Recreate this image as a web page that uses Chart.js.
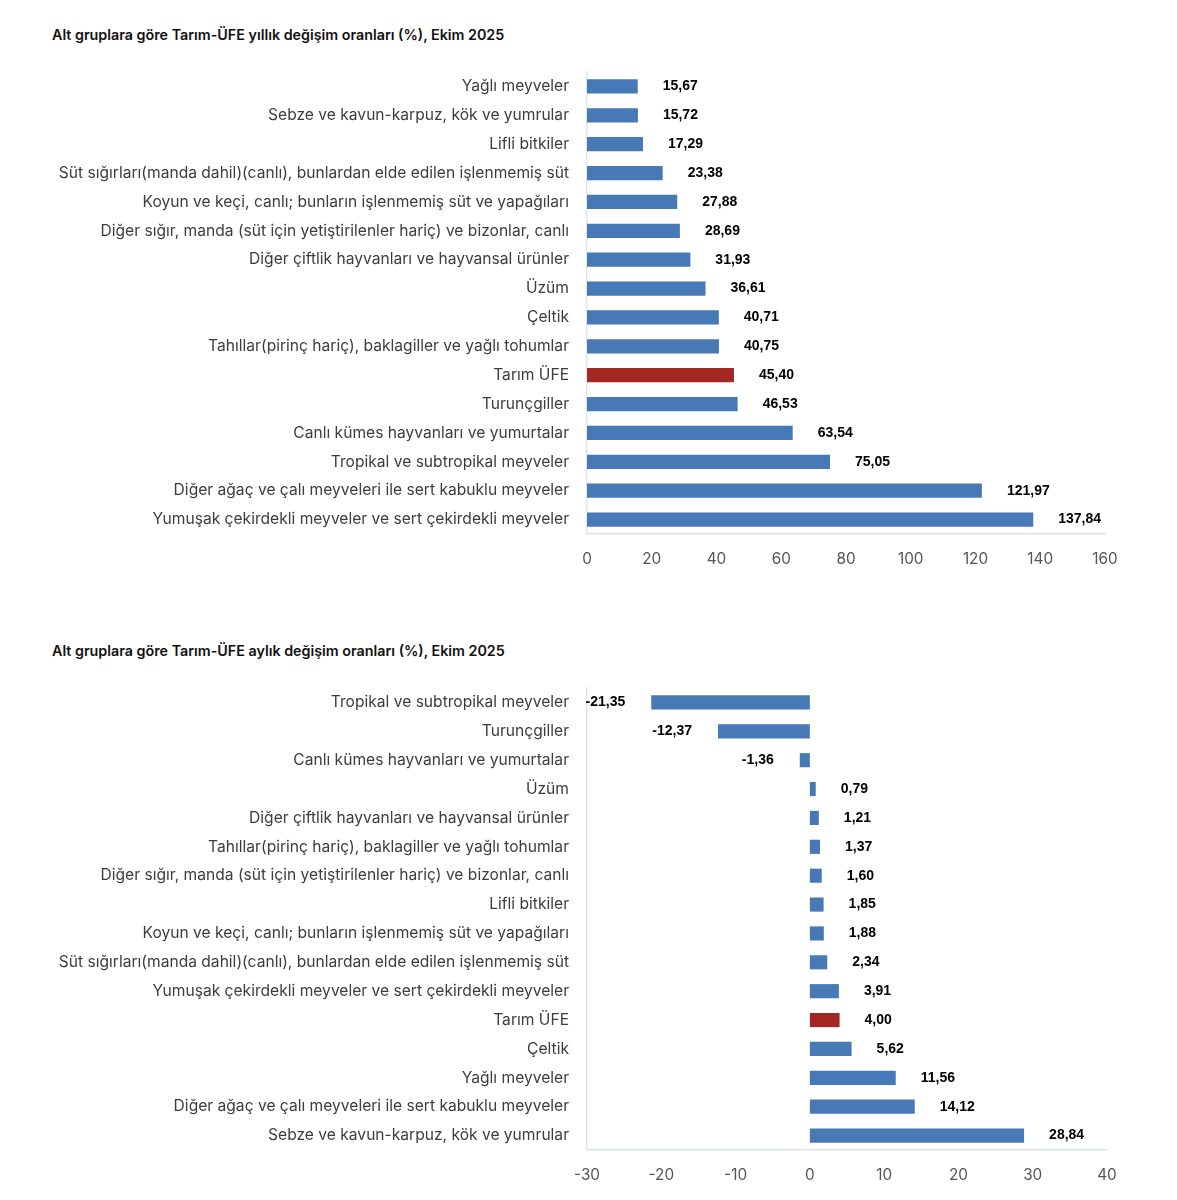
<!DOCTYPE html>
<html>
<head>
<meta charset="utf-8">
<script src="https://cdn.jsdelivr.net/npm/chart.js@4.4.1/dist/chart.umd.min.js"></script>
<style>
    body { margin: 0; background: #ffffff; width: 1177px; height: 1200px; position: relative; overflow: hidden; }
    .title { position: absolute; left: 52px; font: 600 14.3px Inter, "Liberation Sans", Arial, sans-serif; color: #111; white-space: nowrap; }
    .box { position: absolute; left: 0; width: 1177px; height: 600px; }
</style>
</head>
<body>
<div class="title" style="top:26px">Alt gruplara göre Tarım-ÜFE yıllık değişim oranları (%), Ekim 2025</div>
<div class="title" style="top:642px">Alt gruplara göre Tarım-ÜFE aylık değişim oranları (%), Ekim 2025</div>
<div class="box" style="top:0"><canvas id="annual-chart"></canvas></div>
<div class="box" style="top:600px"><canvas id="monthly-chart"></canvas></div>
<script>
// Yearly change by sub group
const annualLabels = [
    'Yağlı meyveler',
    'Sebze ve kavun-karpuz, kök ve yumrular',
    'Lifli bitkiler',
    'Süt sığırları(manda dahil)(canlı), bunlardan elde edilen işlenmemiş süt',
    'Koyun ve keçi, canlı; bunların işlenmemiş süt ve yapağıları',
    'Diğer sığır, manda (süt için yetiştirilenler hariç) ve bizonlar, canlı',
    'Diğer çiftlik hayvanları ve hayvansal ürünler',
    'Üzüm',
    'Çeltik',
    'Tahıllar(pirinç hariç), baklagiller ve yağlı tohumlar',
    'Tarım ÜFE',
    'Turunçgiller',
    'Canlı kümes hayvanları ve yumurtalar',
    'Tropikal ve subtropikal meyveler',
    'Diğer ağaç ve çalı meyveleri ile sert kabuklu meyveler',
    'Yumuşak çekirdekli meyveler ve sert çekirdekli meyveler'
];
const annualValues = [15.67, 15.72, 17.29, 23.38, 27.88, 28.69, 31.93, 36.61, 40.71, 40.75, 45.40, 46.53, 63.54, 75.05, 121.97, 137.84];
const annualTicks = [0, 20, 40, 60, 80, 100, 120, 140, 160];

// Monthly change by sub group
const monthlyLabels = [
    'Tropikal ve subtropikal meyveler',
    'Turunçgiller',
    'Canlı kümes hayvanları ve yumurtalar',
    'Üzüm',
    'Diğer çiftlik hayvanları ve hayvansal ürünler',
    'Tahıllar(pirinç hariç), baklagiller ve yağlı tohumlar',
    'Diğer sığır, manda (süt için yetiştirilenler hariç) ve bizonlar, canlı',
    'Lifli bitkiler',
    'Koyun ve keçi, canlı; bunların işlenmemiş süt ve yapağıları',
    'Süt sığırları(manda dahil)(canlı), bunlardan elde edilen işlenmemiş süt',
    'Yumuşak çekirdekli meyveler ve sert çekirdekli meyveler',
    'Tarım ÜFE',
    'Çeltik',
    'Yağlı meyveler',
    'Diğer ağaç ve çalı meyveleri ile sert kabuklu meyveler',
    'Sebze ve kavun-karpuz, kök ve yumrular'
];
const monthlyValues = [-21.35, -12.37, -1.36, 0.79, 1.21, 1.37, 1.60, 1.85, 1.88, 2.34, 3.91, 4.00, 5.62, 11.56, 14.12, 28.84];
const monthlyTicks = [-30, -20, -10, 0, 10, 20, 30, 40];

const HIGHLIGHT = 'Tarım ÜFE';
const BLUE = '#4679b6';
const RED = '#a32722';
const UI_FONT = 'Inter, "Liberation Sans", Arial, sans-serif';

// Draw value labels next to bar ends
const valueLabels = {
    id: 'valueLabels',
    afterDatasetsDraw(chart) {
        const ctx = chart.ctx;
        const meta = chart.getDatasetMeta(0);
        const values = chart.data.datasets[0].data;
        ctx.save();
        ctx.font = 'bold 14px "Liberation Sans", Arial, sans-serif';
        ctx.fillStyle = '#000';
        ctx.textBaseline = 'middle';
        meta.data.forEach((bar, i) => {
            const v = values[i];
            const text = v.toFixed(2).replace('.', ',');
            if (v >= 0) {
                ctx.textAlign = 'left';
                ctx.fillText(text, bar.x + 25, bar.y);
            } else {
                ctx.textAlign = 'right';
                ctx.fillText(text, bar.x - 26, bar.y);
            }
        });
        ctx.restore();
    }
};

function makeChart(id, labels, values, ticks, padding) {
    const ctx = document.getElementById(id).getContext('2d');
    return new Chart(ctx, {
        type: 'bar',
        data: {
            labels: labels,
            datasets: [{
                data: values,
                backgroundColor: labels.map(l => l === HIGHLIGHT ? RED : BLUE),
                borderWidth: 0,
                categoryPercentage: 1,
                barPercentage: 0.49
            }]
        },
        options: {
            indexAxis: 'y',
            responsive: false,
            animation: false,
            layout: { padding: padding },
            plugins: {
                legend: { display: false },
                tooltip: { enabled: false }
            },
            scales: {
                x: {
                    min: ticks[0],
                    max: ticks[ticks.length - 1],
                    afterBuildTicks: scale => { scale.ticks = ticks.map(v => ({ value: v })); },
                    afterFit: scale => { scale.height = 40; },
                    grid: { display: false, drawTicks: false },
                    border: { display: true, color: '#dde3ea', width: 1.5 },
                    ticks: {
                        padding: 16,
                        color: '#555555',
                        font: { family: UI_FONT, size: 15.3 }
                    }
                },
                y: {
                    afterFit: scale => { scale.width = 587; },
                    grid: { display: false, drawTicks: false },
                    border: { display: true, color: '#e2e6ea', width: 1.5 },
                    ticks: {
                        padding: 18,
                        color: '#3d3d3d',
                        autoSkip: false,
                        font: { family: UI_FONT, size: 15.6 }
                    }
                }
            }
        },
        plugins: [valueLabels]
    });
}

function setSize(id) {
    const c = document.getElementById(id);
    c.width = 1177;
    c.height = 600;
    c.style.width = '1177px';
    c.style.height = '600px';
}

setSize('annual-chart');
setSize('monthly-chart');
makeChart('annual-chart', annualLabels, annualValues, annualTicks, { top: 72, right: 72, bottom: 26, left: 0 });
makeChart('monthly-chart', monthlyLabels, monthlyValues, monthlyTicks, { top: 88, right: 70, bottom: 10, left: 0 });
</script>
</body>
</html>
